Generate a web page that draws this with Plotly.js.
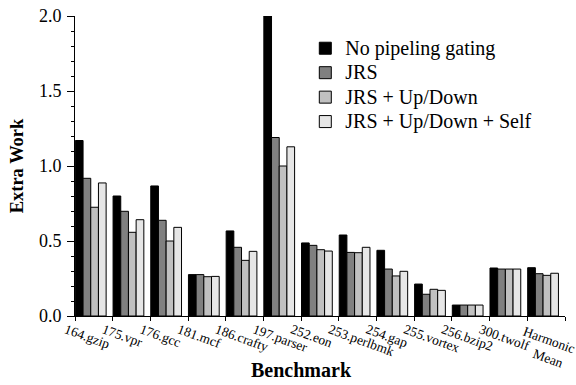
<!DOCTYPE html>
<html>
<head>
<meta charset="utf-8">
<script src="https://cdn.plot.ly/plotly-3.0.1.min.js"></script>
<style>html,body{margin:0;padding:0;background:#fff;}#chart{width:576px;height:385px;}</style>
</head>
<body>
<div id="chart"></div>
<script>
var categories = ['164.gzip','175.vpr','176.gcc','181.mcf','186.crafty','197.parser','252.eon','253.perlbmk','254.gap','255.vortex','256.bzip2','300.twolf','Harmonic Mean'];
var tickLabels = ['164.gzip','175.vpr','176.gcc','181.mcf','186.crafty','197.parser','252.eon','253.perlbmk','254.gap','255.vortex','256.bzip2','300.twolf','\u00a0\u00a0Harmonic<br>\u00a0\u00a0\u00a0\u00a0\u00a0\u00a0\u00a0Mean'];
var seriesNames = ['No pipeling gating','JRS','JRS + Up/Down','JRS + Up/Down + Self'];
var noGating   = [1.17, 0.80, 0.867, 0.276, 0.567, 2.00, 0.487, 0.54, 0.438, 0.213, 0.073, 0.32, 0.322];
var jrs        = [0.918, 0.698, 0.638, 0.276, 0.458, 1.19, 0.471, 0.424, 0.313, 0.145, 0.073, 0.313, 0.282];
var jrsUpDown  = [0.725, 0.558, 0.50, 0.262, 0.371, 1.00, 0.442, 0.422, 0.267, 0.178, 0.073, 0.313, 0.271];
var jrsUpDownSelf = [0.887, 0.642, 0.591, 0.264, 0.431, 1.128, 0.433, 0.458, 0.298, 0.171, 0.073, 0.313, 0.285];
var yTickVals = [0, 0.5, 1.0, 1.5, 2.0];

var values = [noGating, jrs, jrsUpDown, jrsUpDownSelf];
var colors = ['#000000', '#808080', '#c0c0c0', '#e6e6e6'];
var barW = 0.204;
var traces = values.map(function(v, i) {
  return {
    type: 'bar',
    name: '<span style="font-size:20px">' + seriesNames[i] + '</span>',
    x: categories,
    y: v,
    width: barW,
    offset: -0.49 + i * barW,
    marker: {color: colors[i], line: {color: '#000', width: 1}},
    legendgroup: 'g' + i,
    cliponaxis: true
  };
});

var font = "'Liberation Serif', serif";
var layout = {
  width: 576, height: 385,
  margin: {l: 75, r: 11, t: 16, b: 69},
  paper_bgcolor: '#fff', plot_bgcolor: '#fff',
  barmode: 'overlay',
  font: {family: font, color: '#000'},
  showlegend: true,
  legend: {
    x: 0.47, y: 0.95, xanchor: 'left', yanchor: 'top',
    bgcolor: 'rgba(0,0,0,0)',
    font: {family: font, size: 16.5, color: '#000'},
    traceorder: 'grouped', tracegroupgap: 0
  },
  xaxis: {
    type: 'category',
    range: [-0.5, 12.5],
    tickvals: categories,
    ticktext: tickLabels,
    showline: true, linecolor: '#000', linewidth: 1,
    ticks: 'outside', ticklen: 4, tickcolor: '#000', tickson: 'boundaries',
    tickangle: 20,
    ticklabelshift: -28,
    tickfont: {family: font, size: 13.5, color: '#000'},
    showgrid: false, zeroline: false, fixedrange: true
  },
  yaxis: {
    range: [0, 2.0],
    tickvals: yTickVals,
    tickformat: '.1f',
    showline: true, linecolor: '#000', linewidth: 1,
    ticks: 'outside', ticklen: 7, tickcolor: '#000',
    minor: {dtick: 0.1, ticks: 'outside', ticklen: 3, tickcolor: '#000', showgrid: false},
    tickfont: {family: font, size: 18, color: '#000'},
    ticklabelstandoff: 2,
    showgrid: false, zeroline: false,
    title: {text: '<b>Extra Work</b>', font: {family: font, size: 18.5, color: '#000'}, standoff: 10}
  },
  annotations: [{
    text: '<b>Benchmark</b>', xref: 'paper', yref: 'paper',
    x: (301 - 75) / 490, y: 0, yshift: -54, xanchor: 'center', yanchor: 'middle',
    showarrow: false, font: {family: font, size: 20, color: '#000'}
  }]
};

Plotly.newPlot('chart', traces, layout, {displayModeBar: false, staticPlot: true});
</script>
</body>
</html>
